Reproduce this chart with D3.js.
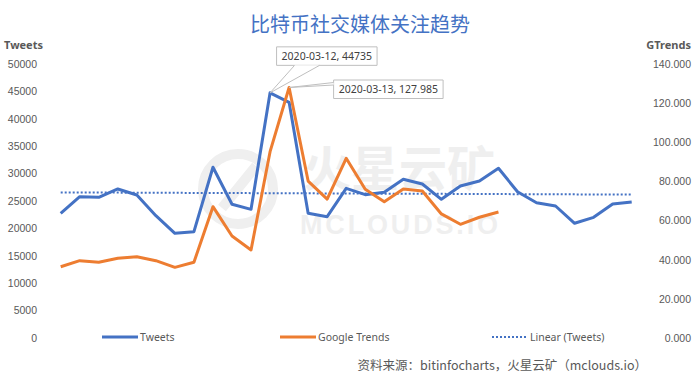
<!DOCTYPE html>
<html>
<head>
<meta charset="utf-8">
<script src="https://cdn.jsdelivr.net/npm/d3@7/dist/d3.min.js"></script>
<style>
  html, body { margin: 0; padding: 0; background: #fff; }
  svg { display: block; font-family: "Noto Sans", "Noto Sans CJK SC", sans-serif; }
</style>
</head>
<body>
<div id="chart"></div>
<script>
// Daily values, March 2020
const DATES = [
  '2020-03-01', '2020-03-02', '2020-03-03', '2020-03-04', '2020-03-05', '2020-03-06',
  '2020-03-07', '2020-03-08', '2020-03-09', '2020-03-10', '2020-03-11', '2020-03-12',
  '2020-03-13', '2020-03-14', '2020-03-15', '2020-03-16', '2020-03-17', '2020-03-18',
  '2020-03-19', '2020-03-20', '2020-03-21', '2020-03-22', '2020-03-23', '2020-03-24',
  '2020-03-25', '2020-03-26', '2020-03-27', '2020-03-28', '2020-03-29', '2020-03-30',
  '2020-03-31'
];
const TWEETS = [
  22750, 25790, 25670, 27190, 26100, 22320, 19100, 19400, 31150, 24400, 23480, 44735,
  43000, 22750, 22140, 27310, 26150, 26590, 28960, 28100, 25310, 27740, 28650, 30970,
  26700, 24690, 24090, 20930, 22020, 24450, 24820
];
const GTRENDS = [
  36.4, 39.5, 38.7, 40.7, 41.5, 39.5, 36.1, 38.7, 67.1, 52.1, 45.0, 95.2,
  127.985, 80.2, 71.0, 91.8, 76.0, 69.6, 76.1, 75.1, 63.4, 58.1, 61.7, 64.4
];
const LEFT_TICKS = [0, 5000, 10000, 15000, 20000, 25000, 30000, 35000, 40000, 45000, 50000];
const RIGHT_TICKS = [0, 20, 40, 60, 80, 100, 120, 140];

const TITLE = '比特币社交媒体关注趋势';
const SOURCE = '资料来源：bitinfocharts，火星云矿（mclouds.io）';
const BLUE = '#4472C4';
const ORANGE = '#ED7D31';
const TEXT = '#595959';

const W = 696, H = 378;
const PLOT = { left: 60.7, right: 631.7, top: 64, bottom: 338 };

const svg = d3.select('#chart').append('svg').attr('width', W).attr('height', H);

const x = d3.scalePoint().domain(DATES).range([PLOT.left, PLOT.right]);
const yL = d3.scaleLinear().domain([0, 50000]).range([PLOT.bottom, PLOT.top]);
const yR = d3.scaleLinear().domain([0, 140]).range([PLOT.bottom, PLOT.top]);

// watermark
const wm = svg.append('g').attr('fill', '#efefef');
wm.append('circle').attr('cx', 238).attr('cy', 189).attr('r', 35)
  .attr('fill', 'none').attr('stroke', '#efefef').attr('stroke-width', 10);
wm.append('line').attr('x1', 256).attr('y1', 166).attr('x2', 222).attr('y2', 208)
  .attr('stroke', '#efefef').attr('stroke-width', 10);
wm.append('text').attr('x', 303).attr('y', 186).attr('font-size', 48)
  .attr('font-family', 'Noto Sans CJK SC').attr('font-weight', 'bold').text('火星云矿');
wm.append('text').attr('x', 300).attr('y', 234).attr('font-size', 27)
  .attr('font-family', 'Liberation Sans').attr('font-weight', 'bold')
  .attr('textLength', 198).text('MCLOUDS.IO');

// title
svg.append('text').attr('x', 360).attr('y', 32).attr('text-anchor', 'middle')
  .attr('font-family', 'Noto Sans CJK SC').attr('font-size', 20).attr('fill', BLUE)
  .text(TITLE);

// axes
const axL = svg.append('g').attr('transform', 'translate(37,0)')
  .call(d3.axisLeft(yL).tickValues(LEFT_TICKS).tickSize(0).tickPadding(0).tickFormat(d3.format('d')));
const axR = svg.append('g').attr('transform', 'translate(691,0)')
  .call(d3.axisLeft(yR).tickValues(RIGHT_TICKS).tickSize(0).tickPadding(0).tickFormat(d3.format('.3f')));
[axL, axR].forEach(a => {
  a.select('.domain').remove();
  a.selectAll('text').attr('fill', TEXT).attr('font-size', 10.5);
});

svg.append('text').attr('x', 4).attr('y', 49).attr('font-size', 11).attr('font-weight', 'bold')
  .attr('fill', TEXT).text('Tweets');
svg.append('text').attr('x', 691).attr('y', 49).attr('text-anchor', 'end').attr('font-size', 11)
  .attr('font-weight', 'bold').attr('fill', TEXT).text('GTrends');

// linear trend of tweets
const idx = TWEETS.map((_, i) => i);
const mx = d3.mean(idx), my = d3.mean(TWEETS);
const slope = d3.sum(idx, i => (i - mx) * (TWEETS[i] - my)) / d3.sum(idx, i => (i - mx) ** 2);
const icpt = my - slope * mx;
svg.append('line')
  .attr('x1', x(DATES[0])).attr('y1', yL(icpt))
  .attr('x2', x(DATES[DATES.length - 1])).attr('y2', yL(icpt + slope * (DATES.length - 1)))
  .attr('stroke', BLUE).attr('stroke-width', 2).attr('stroke-dasharray', '2 2');

// series
svg.append('path').datum(TWEETS)
  .attr('fill', 'none').attr('stroke', BLUE).attr('stroke-width', 3).attr('stroke-linejoin', 'round')
  .attr('d', d3.line().x((d, i) => x(DATES[i])).y(d => yL(d)));
svg.append('path').datum(GTRENDS)
  .attr('fill', 'none').attr('stroke', ORANGE).attr('stroke-width', 3).attr('stroke-linejoin', 'round')
  .attr('d', d3.line().x((d, i) => x(DATES[i])).y(d => yR(d)));

// callouts
function callout(px, py, bx, by, bw, bh, wedge, label) {
  const g = svg.append('g');
  g.append('path')
    .attr('d', `M${bx},${by}h${bw}v${bh}h${-bw}Z`)
    .attr('fill', '#fff').attr('stroke', '#bfbfbf').attr('stroke-width', 1);
  g.append('path')
    .attr('d', `M${wedge[0][0]},${wedge[0][1]}L${px},${py}L${wedge[1][0]},${wedge[1][1]}`)
    .attr('fill', '#fff').attr('stroke', '#bfbfbf').attr('stroke-width', 1);
  g.append('text').attr('x', bx + bw / 2).attr('y', by + bh / 2 + 4)
    .attr('text-anchor', 'middle').attr('font-size', 10.5).attr('fill', '#404040').text(label);
}
const p1x = x(DATES[11]), p1y = yL(TWEETS[11]);
callout(p1x, p1y, p1x + 6.5, p1y - 46, 100.5, 18.5,
  [[p1x + 24.5, p1y - 27.5], [p1x + 49.5, p1y - 27.5]],
  `${DATES[11]}, ${TWEETS[11]}`);
const p2x = x(DATES[12]), p2y = yR(GTRENDS[12]);
callout(p2x, p2y, p2x + 44.5, p2y - 7.5, 109.5, 18.5,
  [[p2x + 44.5, p2y - 5], [p2x + 44.5, p2y - 2.5]],
  `${DATES[12]}, ${GTRENDS[12]}`);

// legend
const legend = [
  { label: 'Tweets', color: BLUE, x: 102, dash: null, w: 3 },
  { label: 'Google Trends', color: ORANGE, x: 280, dash: null, w: 3 },
  { label: 'Linear (Tweets)', color: BLUE, x: 492, dash: '2 2', w: 2 }
];
legend.forEach(l => {
  svg.append('line').attr('x1', l.x).attr('x2', l.x + 36).attr('y1', 337).attr('y2', 337)
    .attr('stroke', l.color).attr('stroke-width', l.w).attr('stroke-dasharray', l.dash);
  svg.append('text').attr('x', l.x + 38).attr('y', 341).attr('font-size', 10.5)
    .attr('fill', TEXT).text(l.label);
});

// source
svg.append('text').attr('x', 647).attr('y', 370).attr('text-anchor', 'end')
  .attr('font-family', 'Noto Sans CJK SC').attr('font-size', 12.5).attr('fill', TEXT)
  .text(SOURCE);
</script>
</body>
</html>
